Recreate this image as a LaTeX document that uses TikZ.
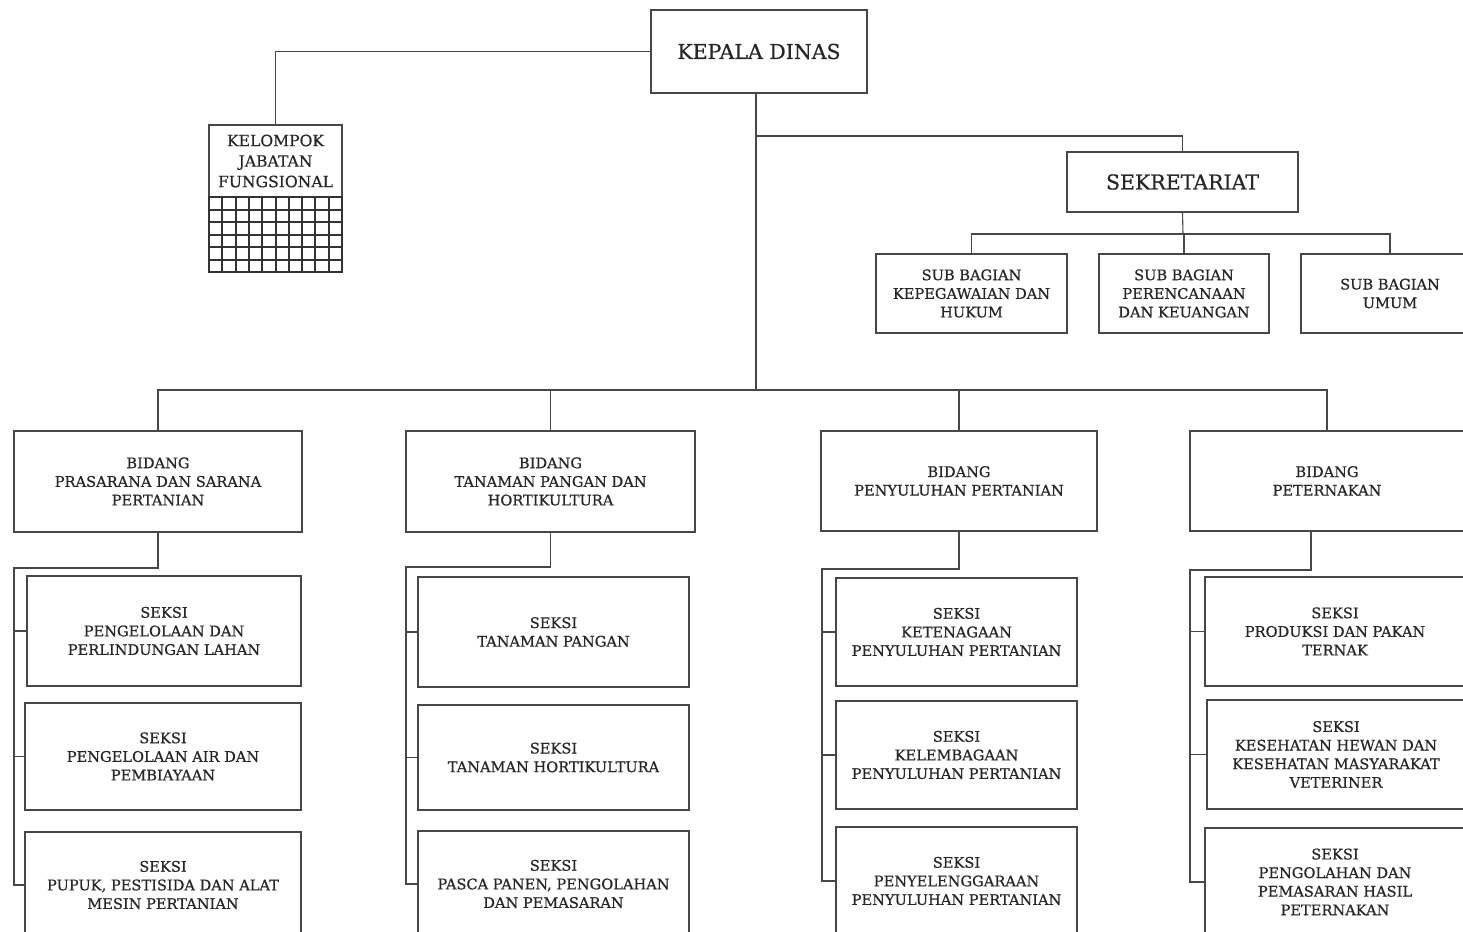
\documentclass[tikz,border=0pt]{standalone}
\usepackage{fontspec}
\setmainfont{DejaVu Serif}
\newfontfamily\orgfont[FakeBold=0.6]{DejaVu Serif}
\begin{document}
\begin{tikzpicture}[x=1pt,y=-1pt,
  ln/.style={draw=black!72, line width=1.1pt},
  box/.style={draw=black!72, line width=1.1pt, rectangle, align=center, inner sep=0pt,
    font=\orgfont\fontsize{14.6}{18.6}\selectfont, text=black!85},
  big/.style={font=\orgfont\fontsize{20.5}{24}\selectfont},
  gridln/.style={draw=black!80, line width=2pt}]
\useasboundingbox (0,0) rectangle (1463,931);
\clip (0,0) rectangle (1463,931);

% top level
\node[box, big, minimum width=216pt, minimum height=83pt] (kepala) at (759,51.5) {KEPALA DINAS};
\node[box, font=\orgfont\fontsize{15.6}{20.5}\selectfont, minimum width=133pt, minimum height=72pt] (kel) at (275.5,161) {KELOMPOK\\JABATAN\\FUNGSIONAL};
\node[draw=black!80, line width=2pt, rectangle, inner sep=0pt, minimum width=133pt, minimum height=75pt] (kelgrid) at (275.5,234.5) {};
\foreach \i in {1,...,9} \draw[gridln] ({209+\i*13.3},197) -- ({209+\i*13.3},272);
\foreach \j in {1,...,5} \draw[gridln] (209,{197+\j*12.5}) -- (342,{197+\j*12.5});

% sekretariat
\node[box, big, minimum width=231pt, minimum height=60pt] (sek) at (1182.5,182) {SEKRETARIAT};
\node[box, minimum width=191pt, minimum height=79pt] (sub1) at (971.5,293.5) {SUB BAGIAN\\KEPEGAWAIAN DAN\\HUKUM};
\node[box, minimum width=170pt, minimum height=79pt] (sub2) at (1184,293.5) {SUB BAGIAN\\PERENCANAAN\\DAN KEUANGAN};
\node[box, minimum width=178pt, minimum height=79pt] (sub3) at (1390,293.5) {SUB BAGIAN\\UMUM};

% bidang
\node[box, minimum width=288pt, minimum height=101pt] (bid1) at (158,481.5) {BIDANG\\PRASARANA DAN SARANA\\PERTANIAN};
\node[box, minimum width=289pt, minimum height=101pt] (bid2) at (550.5,481.5) {BIDANG\\TANAMAN PANGAN DAN\\HORTIKULTURA};
\node[box, minimum width=276pt, minimum height=100pt] (bid3) at (959,481) {BIDANG\\PENYULUHAN PERTANIAN};
\node[box, minimum width=274pt, minimum height=100pt] (bid4) at (1327,481) {BIDANG\\PETERNAKAN};

% seksi column 1
\node[box, minimum width=274pt, minimum height=110pt] (s11) at (164,631) {SEKSI\\PENGELOLAAN DAN\\PERLINDUNGAN LAHAN};
\node[box, minimum width=276pt, minimum height=107pt] (s12) at (163,756.5) {SEKSI\\PENGELOLAAN AIR DAN\\PEMBIAYAAN};
\node[box, minimum width=276pt, minimum height=106pt] (s13) at (163,885) {SEKSI\\PUPUK, PESTISIDA DAN ALAT\\MESIN PERTANIAN};
% seksi column 2
\node[box, minimum width=271pt, minimum height=110pt] (s21) at (553.5,632) {SEKSI\\TANAMAN PANGAN};
\node[box, minimum width=271pt, minimum height=105pt] (s22) at (553.5,757.5) {SEKSI\\TANAMAN HORTIKULTURA};
\node[box, minimum width=271pt, minimum height=106pt] (s23) at (553.5,884) {SEKSI\\PASCA PANEN, PENGOLAHAN\\DAN PEMASARAN};
% seksi column 3
\node[box, minimum width=241pt, minimum height=108pt] (s31) at (956.5,632) {SEKSI\\KETENAGAAN\\PENYULUHAN PERTANIAN};
\node[box, minimum width=241pt, minimum height=108pt] (s32) at (956.5,755) {SEKSI\\KELEMBAGAAN\\PENYULUHAN PERTANIAN};
\node[box, minimum width=241pt, minimum height=108pt] (s33) at (956.5,881) {SEKSI\\PENYELENGGARAAN\\PENYULUHAN PERTANIAN};
% seksi column 4
\node[box, minimum width=260pt, minimum height=109pt] (s41) at (1335,631.5) {SEKSI\\PRODUKSI DAN PAKAN\\TERNAK};
\node[box, minimum width=258pt, minimum height=109pt] (s42) at (1336,754.5) {SEKSI\\KESEHATAN HEWAN DAN\\KESEHATAN MASYARAKAT\\VETERINER};
\node[box, minimum width=260pt, minimum height=108pt] (s43) at (1335,882) {SEKSI\\PENGOLAHAN DAN\\PEMASARAN HASIL\\PETERNAKAN};

% connector coordinates
\coordinate (t1) at (756,136);
\coordinate (t2) at (756,390);
\coordinate (sb) at (1183,234);
\coordinate (c1) at (14,568);
\coordinate (c2) at (406,567);
\coordinate (c3) at (822,569);
\coordinate (c4top) at (1311,570);
\coordinate (c4) at (1190,570);

% connectors
\draw[ln] (kepala.west) -| (kel.north);
\draw[ln] (kepala.south -| t2) -- (t2);
\draw[ln] (t1) -| (sek.north);
\draw[ln] (sek.south) -- (sb);
\draw[ln] (sub1.north) |- (sb) -| (sub3.north);
\draw[ln] (sub2.north) -- (sub2.north |- sb);
\draw[ln] (bid1.north) |- (t2) -| (bid4.north);
\draw[ln] (bid2.north) -- (bid2.north |- t2);
\draw[ln] (bid3.north) -- (bid3.north |- t2);

\draw[ln] (bid1.south) |- (c1) |- (s13.west);
\draw[ln] (c1 |- s11.west) -- (s11.west);
\draw[ln] (c1 |- s12.west) -- (s12.west);

\draw[ln] (bid2.south) |- (c2) |- (s23.west);
\draw[ln] (c2 |- s21.west) -- (s21.west);
\draw[ln] (c2 |- s22.west) -- (s22.west);

\draw[ln] (bid3.south) |- (c3) |- (s33.west);
\draw[ln] (c3 |- s31.west) -- (s31.west);
\draw[ln] (c3 |- s32.west) -- (s32.west);

\draw[ln] (bid4.south -| c4top) -- (c4top) -- (c4) |- (s43.west);
\draw[ln] (c4 |- s41.west) -- (s41.west);
\draw[ln] (c4 |- s42.west) -- (s42.west);
\end{tikzpicture}
\end{document}
